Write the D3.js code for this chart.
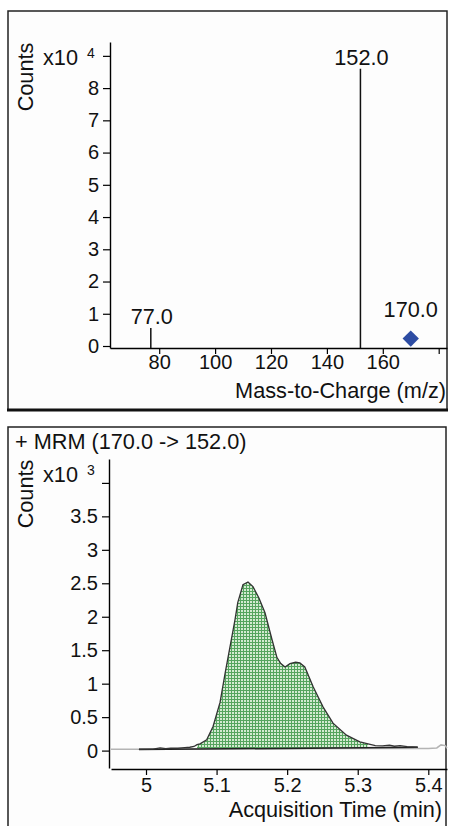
<!DOCTYPE html>
<html>
<head>
<meta charset="utf-8">
<script src="https://cdn.jsdelivr.net/npm/d3@7"></script>
<style>
  body { margin: 0; background: #fff; }
  svg { display: block; font-family: "Liberation Sans", Arial, sans-serif; }
</style>
</head>
<body>
<svg id="chart"></svg>
<script>
// product ion spectrum
const mzValues = [77.0, 152.0];
const mzCounts = [5600, 86000];
const precursorMz = [170.0];
const precursorCounts = [2300];
const mzTicks = [80, 100, 120, 140, 160, 180];
const spectrumTicks = [0, 1, 2, 3, 4, 5, 6, 7, 8, 9];

// MRM chromatogram (170.0 -> 152.0)
const chromTime = [4.990, 5.010, 5.020, 5.028, 5.035, 5.045, 5.055, 5.062, 5.068, 5.0723,
  5.0765, 5.086, 5.095, 5.1049, 5.112, 5.119, 5.126, 5.130, 5.1374, 5.1445, 5.1516,
  5.160, 5.1686, 5.1785, 5.1856, 5.191, 5.197, 5.204, 5.212, 5.218, 5.225, 5.237,
  5.251, 5.265, 5.284, 5.303, 5.3146, 5.325, 5.335, 5.345, 5.352, 5.360, 5.370, 5.385];
const chromCounts = [20, 22, 40, 30, 38, 35, 45, 50, 62, 90,
  100, 160, 360, 720, 1150, 1550, 1950, 2210, 2480, 2520, 2450,
  2280, 2060, 1660, 1390, 1300, 1250, 1300, 1320, 1310, 1250, 950,
  650, 410, 230, 130, 100, 75, 70, 80, 65, 75, 60, 50];
const rawTime = [4.9504, 5.0, 5.1, 5.2, 5.3, 5.4, 5.412, 5.418, 5.424, 5.4265];
const rawCounts = [22, 22, 25, 28, 30, 32, 40, 85, 75, 35];
const baseTime = [4.99, 5.385];
const baseCounts = [15, 50];
const peakStart = 5.0723, peakEnd = 5.3146;
const timeTicks = [5.0, 5.1, 5.2, 5.3, 5.4];
const chromTicks = [0, 0.5, 1, 1.5, 2, 2.5, 3, 3.5, 4];

const W = 450, H = 826;
const LABEL = 21.7;
const svg = d3.select('#chart').attr('width', W).attr('height', H);

// fill pattern
const defs = svg.append('defs');
const pat = defs.append('pattern')
  .attr('id', 'grid')
  .attr('patternUnits', 'userSpaceOnUse')
  .attr('width', 3).attr('height', 3);
pat.append('rect').attr('width', 3).attr('height', 3).attr('fill', '#d3ead1');
pat.append('path').attr('d', 'M0 0.5H3M0.5 0V3')
  .attr('stroke', '#55a45e').attr('stroke-width', 1);

// panel frames
svg.append('rect').attr('x', 8).attr('y', 11).attr('width', 439).attr('height', 399)
  .attr('fill', '#fdfdfd').attr('stroke', '#222').attr('stroke-width', 1.5);
svg.append('line').attr('x1', 7).attr('x2', 448).attr('y1', 410).attr('y2', 410)
  .attr('stroke', '#111').attr('stroke-width', 3);
svg.append('rect').attr('x', 8).attr('y', 427).attr('width', 438).attr('height', 420)
  .attr('fill', '#fdfdfd').attr('stroke', '#222').attr('stroke-width', 1.5);

function styleAxis(g) {
  g.selectAll('path.domain').attr('stroke', '#000').attr('stroke-width', 1.4);
  g.selectAll('.tick line').attr('stroke', '#000').attr('stroke-width', 1.2);
  g.selectAll('.tick text').attr('font-size', 20).attr('fill', '#111')
    .attr('font-family', '"Liberation Sans", Arial, sans-serif');
}

// ---------- top: spectrum ----------
const x1 = d3.scaleLinear().domain([62.4, 182.97]).range([110, 447]);
const y1 = d3.scaleLinear().domain([-620, 94300]).range([348, 42]);

const specG = svg.append('g');
specG.append('g').attr('transform', 'translate(0,348)')
  .call(d3.axisBottom(x1).tickValues(mzTicks).tickSize(6).tickSizeOuter(0).tickPadding(1)
    .tickFormat(d => d === 180 ? '' : d))
  .call(styleAxis);
specG.append('g').attr('transform', 'translate(110,0)')
  .call(d3.axisLeft(y1).tickValues(spectrumTicks.map(d => d * 1e4)).tickSize(7).tickSizeOuter(0).tickPadding(4)
    .tickFormat(d => d === 9e4 ? '' : d3.format('d')(d / 1e4)))
  .call(styleAxis);

specG.selectAll('line.peak').data(mzValues).join('line')
  .attr('class', 'peak')
  .attr('x1', d => x1(d)).attr('x2', d => x1(d))
  .attr('y1', (d, i) => y1(mzCounts[i])).attr('y2', y1(-620))
  .attr('stroke', '#111').attr('stroke-width', 1.5);
specG.selectAll('text.peaklab').data(mzValues).join('text')
  .attr('class', 'peaklab')
  .attr('x', d => x1(d) + 1).attr('y', (d, i) => y1(mzCounts[i]) - 4)
  .attr('text-anchor', 'middle').attr('font-size', LABEL).attr('fill', '#111')
  .text(d => d.toFixed(1));

const diamond = d3.symbol().type(d3.symbolDiamond2).size(170);
specG.selectAll('path.prec').data(precursorMz).join('path')
  .attr('class', 'prec')
  .attr('transform', (d, i) => `translate(${x1(d)},${y1(precursorCounts[i])})`)
  .attr('d', diamond).attr('fill', '#2d4ca3');
specG.selectAll('text.preclab').data(precursorMz).join('text')
  .attr('class', 'preclab')
  .attr('x', d => x1(d)).attr('y', (d, i) => y1(precursorCounts[i]) - 22)
  .attr('text-anchor', 'middle').attr('font-size', LABEL).attr('fill', '#111')
  .text(d => d.toFixed(1));

specG.append('text').attr('transform', 'translate(33,77) rotate(-90)')
  .attr('text-anchor', 'middle').attr('font-size', LABEL).attr('fill', '#111').text('Counts');
specG.append('text').attr('x', 43).attr('y', 65).attr('font-size', LABEL).attr('fill', '#111').text('x10');
specG.append('text').attr('x', 87).attr('y', 58).attr('font-size', 14).attr('fill', '#111').text('4');
specG.append('text').attr('x', 446).attr('y', 398).attr('text-anchor', 'end')
  .attr('font-size', LABEL).attr('fill', '#111').text('Mass-to-Charge (m/z)');

// ---------- bottom: chromatogram ----------
const x2 = d3.scaleLinear().domain([4.9504, 5.4265]).range([111, 447]);
const y2 = d3.scaleLinear().domain([-260, 4357]).range([768, 459]);

const chromG = svg.append('g');
chromG.append('g').attr('transform', 'translate(0,769)')
  .call(d3.axisBottom(x2).tickValues(timeTicks).tickSize(6).tickSizeOuter(0).tickPadding(3)
    .tickFormat(d => d3.format('')(+d.toFixed(1))))
  .call(styleAxis);
chromG.append('g').attr('transform', 'translate(109,0)')
  .call(d3.axisLeft(y2).tickValues(chromTicks.map(d => d * 1e3)).tickSize(7).tickSizeOuter(0).tickPadding(4)
    .tickFormat(d => d === 4e3 ? '' : d3.format('')(d / 1e3)))
  .call(styleAxis);

const baseAt = d3.scaleLinear().domain(baseTime).range(baseCounts);
const chrom = chromTime.map((t, i) => ({ t, c: chromCounts[i] }));
const peakPts = chrom.filter(d => d.t >= peakStart && d.t <= peakEnd);

chromG.append('path').datum(peakPts)
  .attr('d', d3.area().x(d => x2(d.t)).y0(d => y2(baseAt(d.t))).y1(d => y2(d.c)))
  .attr('fill', 'url(#grid)');

chromG.append('path').datum(rawTime.map((t, i) => ({ t, c: rawCounts[i] })))
  .attr('d', d3.line().x(d => x2(d.t)).y(d => y2(d.c)))
  .attr('fill', 'none').attr('stroke', '#b4b4b4').attr('stroke-width', 1.5);
chromG.append('path').datum(baseTime.map((t, i) => ({ t, c: baseCounts[i] })))
  .attr('d', d3.line().x(d => x2(d.t)).y(d => y2(d.c)))
  .attr('fill', 'none').attr('stroke', '#222').attr('stroke-width', 1.5);
chromG.append('path').datum(chrom)
  .attr('d', d3.line().x(d => x2(d.t)).y(d => y2(d.c)))
  .attr('fill', 'none').attr('stroke', '#333').attr('stroke-width', 1.3);

chromG.append('text').attr('x', 15).attr('y', 449).attr('font-size', LABEL).attr('fill', '#111')
  .text('+ MRM (170.0 -> 152.0)');
chromG.append('text').attr('transform', 'translate(33,494) rotate(-90)')
  .attr('text-anchor', 'middle').attr('font-size', LABEL).attr('fill', '#111').text('Counts');
chromG.append('text').attr('x', 43).attr('y', 482).attr('font-size', LABEL).attr('fill', '#111').text('x10');
chromG.append('text').attr('x', 87).attr('y', 475).attr('font-size', 14).attr('fill', '#111').text('3');
chromG.append('text').attr('x', 442).attr('y', 816.5).attr('text-anchor', 'end')
  .attr('font-size', LABEL).attr('fill', '#111').text('Acquisition Time (min)');
</script>
</body>
</html>
